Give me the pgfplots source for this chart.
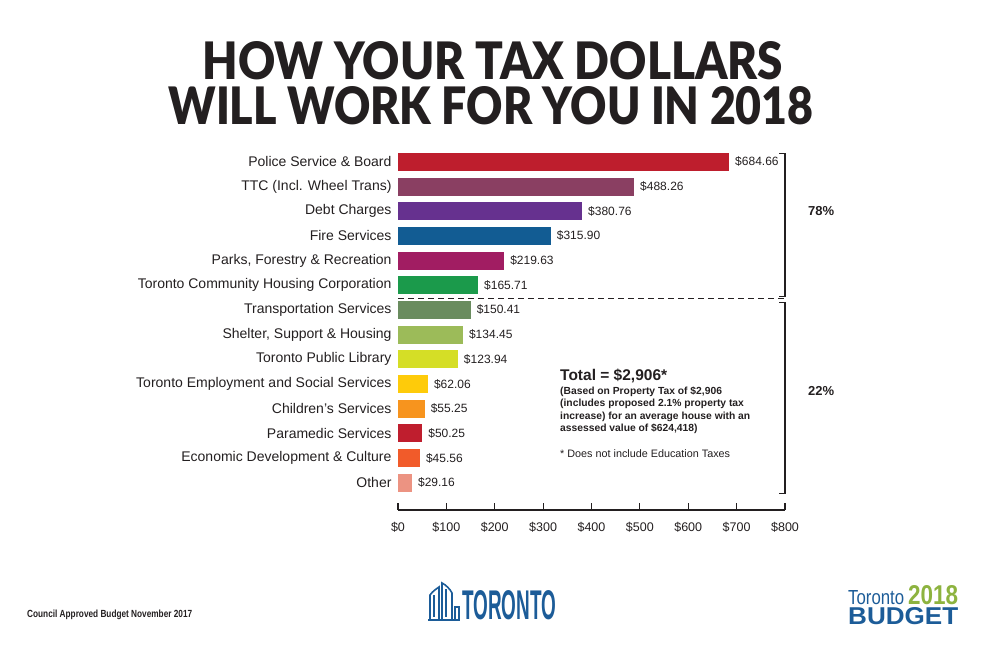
\documentclass[border=0pt]{standalone}
\usepackage{pgfplots}
\pgfplotsset{compat=1.18}
\usepackage{fontspec}
\setmainfont{Liberation Sans}
\newfontfamily\titlefont{Lato Black}
\definecolor{cPolice}{HTML}{BE1E2D}
\definecolor{cTTC}{HTML}{8A3F62}
\definecolor{cDebt}{HTML}{66318F}
\definecolor{cFire}{HTML}{125C93}
\definecolor{cParks}{HTML}{A11D62}
\definecolor{cTCHC}{HTML}{1B9A4B}
\definecolor{cTrans}{HTML}{6A8C5F}
\definecolor{cShelter}{HTML}{9CBB59}
\definecolor{cLib}{HTML}{D5DE26}
\definecolor{cEmp}{HTML}{FECB0A}
\definecolor{cChild}{HTML}{F7941E}
\definecolor{cPara}{HTML}{BF1E2E}
\definecolor{cEcon}{HTML}{F15B2A}
\definecolor{cOther}{HTML}{EC9382}
\definecolor{torblue}{HTML}{1C5C98}
\definecolor{torgreen}{HTML}{8DB33F}
\definecolor{txt}{HTML}{231F20}
\begin{document}
\begin{tikzpicture}[x=1pt,y=1pt]
\path[use as bounding box] (0,0) rectangle (983,655);
% title
\node[anchor=south, inner sep=0] at (493,575) {\resizebox{580pt}{38pt}{\titlefont\color{txt}HOW YOUR TAX DOLLARS}};
\node[anchor=south, inner sep=0] at (491,530) {\resizebox{645pt}{38pt}{\titlefont\color{txt}WILL WORK FOR YOU IN 2018}};
\begin{axis}[
  at={(398pt,145pt)}, anchor=south west, scale only axis,
  width=387pt, height=363pt,
  xmin=0, xmax=800, ymin=-1.1, ymax=13.6,
  xbar, bar width=18pt, bar shift=0pt,
  axis x line*=bottom, axis y line*=left,
  y axis line style={draw=none},
  x axis line style={line width=1.1pt, color=txt},
  xtick={0,100,...,800},
  xticklabels={\$0,\$100,\$200,\$300,\$400,\$500,\$600,\$700,\$800},
  xtick align=inside,
  xtick style={line width=1.1pt, color=txt},
  major tick length=7pt,
  ytick={0,...,13},
  yticklabels={Other, Economic Development \& Culture, Paramedic Services, Children's Services, Toronto Employment and Social Services, Toronto Public Library, {Shelter, Support \& Housing}, Transportation Services, Toronto Community Housing Corporation, {Parks, Forestry \& Recreation}, Fire Services, Debt Charges, TTC (Incl. Wheel Trans), Police Service \& Board},
  ytick style={draw=none},
  yticklabel style={font=\fontsize{14}{14}\selectfont, color=txt, xshift=4pt},
  xticklabel style={font=\fontsize{12.5}{12.5}\selectfont, color=txt, yshift=-9pt},
  nodes near coords={\$\pgfmathprintnumber[fixed,fixed zerofill,precision=2]{\pgfplotspointmeta}},
  nodes near coords style={font=\fontsize{12}{12}\selectfont, color=txt, anchor=west, xshift=2.5pt},
  /pgf/number format/assume math mode=true,
  clip=false,
]
\addplot[fill=cPolice, draw=none] coordinates {(684.66,13)};
\addplot[fill=cTTC, draw=none] coordinates {(488.26,12)};
\addplot[fill=cDebt, draw=none] coordinates {(380.76,11)};
\addplot[fill=cFire, draw=none] coordinates {(315.90,10)};
\addplot[fill=cParks, draw=none] coordinates {(219.63,9)};
\addplot[fill=cTCHC, draw=none] coordinates {(165.71,8)};
\addplot[fill=cTrans, draw=none] coordinates {(150.41,7)};
\addplot[fill=cShelter, draw=none] coordinates {(134.45,6)};
\addplot[fill=cLib, draw=none] coordinates {(123.94,5)};
\addplot[fill=cEmp, draw=none] coordinates {(62.06,4)};
\addplot[fill=cChild, draw=none] coordinates {(55.25,3)};
\addplot[fill=cPara, draw=none] coordinates {(50.25,2)};
\addplot[fill=cEcon, draw=none] coordinates {(45.56,1)};
\addplot[fill=cOther, draw=none] coordinates {(29.16,0)};
% brackets
\draw[txt, line width=1.1pt] ([xshift=-6pt]axis cs:800,13.35) -- (axis cs:800,13.35) -- (axis cs:800,7.56) -- ([xshift=-6pt]axis cs:800,7.56);
\draw[txt, line width=1.1pt] ([xshift=-6pt]axis cs:800,7.32) -- (axis cs:800,7.32) -- (axis cs:800,-0.45) -- ([xshift=-6pt]axis cs:800,-0.45);
\draw[txt, line width=1.1pt, dash pattern=on 6pt off 4pt] (axis cs:0,7.46) -- (axis cs:797,7.46);
\node[anchor=west, inner sep=0, font=\bfseries\fontsize{13}{13}\selectfont, text=txt] at ([xshift=23pt]axis cs:800,11.0) {78\%};
\node[anchor=west, inner sep=0, font=\bfseries\fontsize{13}{13}\selectfont, text=txt] at ([xshift=23pt]axis cs:800,3.72) {22\%};
\end{axis}
% total text block
\node[anchor=west, inner sep=0, font=\bfseries\fontsize{15.5}{15.5}\selectfont, text=txt] at (560,279) {Total = \$2,906*};
\node[anchor=west, inner sep=0, font=\bfseries\fontsize{10.3}{10.3}\selectfont, text=txt] at (560,263.5) {(Based on Property Tax of \$2,906};
\node[anchor=west, inner sep=0, font=\bfseries\fontsize{10.3}{10.3}\selectfont, text=txt] at (560,251) {(includes proposed 2.1\% property tax};
\node[anchor=west, inner sep=0, font=\bfseries\fontsize{10.3}{10.3}\selectfont, text=txt] at (560,238.5) {increase) for an average house with an};
\node[anchor=west, inner sep=0, font=\bfseries\fontsize{10.3}{10.3}\selectfont, text=txt] at (560,226) {assessed value of \$624,418)};
\node[anchor=west, inner sep=0, font=\fontsize{10.8}{10.8}\selectfont, text=txt] at (560,201) {* Does not include Education Taxes};
% footer
\node[anchor=south west, inner sep=0] at (27,35) {\resizebox{165pt}{7.5pt}{\bfseries\color{txt}Council Approved Budget November 2017}};
% Toronto logo
\node[anchor=south west, inner sep=0] at (462,35) {\resizebox{94pt}{29pt}{\bfseries\color{torblue}TORONTO}};
\begin{scope}[torblue, line width=1.6pt]
\draw (428,35) -- (460,35);
\draw (430,36) -- (430,60) .. controls (433,64) and (436,66) .. (439,68) -- (439,36);
\draw (434,38) -- (434,60);
\draw (442,36) -- (442,72) .. controls (446,70) and (450,66) .. (452,62) -- (452,36);
\draw (446,38) -- (446,66);
\draw (455,36) -- (455,48) -- (459,48) -- (459,36);
\end{scope}
% Budget logo
\node[anchor=south west, inner sep=0] at (848,50) {\resizebox{56pt}{14pt}{\color{torblue}Toronto}};
\node[anchor=south west, inner sep=0] at (908,50) {\resizebox{50pt}{19pt}{\bfseries\color{torgreen}2018}};
\node[anchor=south west, inner sep=0] at (848,30) {\resizebox{110pt}{17pt}{\bfseries\color{torblue}BUDGET}};
\end{tikzpicture}
\end{document}
